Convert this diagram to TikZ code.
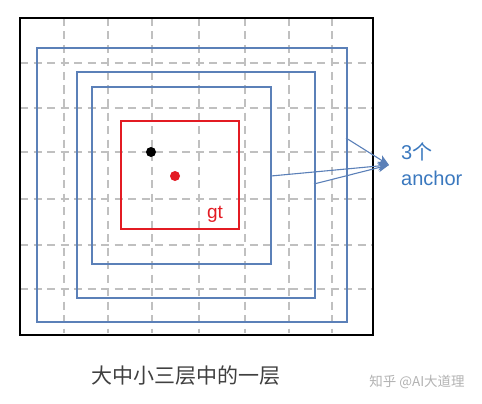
\documentclass[tikz,border=0pt]{standalone}
\usepackage{fontspec}
\setmainfont{Liberation Sans}
\newfontfamily\cjk{Noto Sans CJK SC}
\usetikzlibrary{arrows.meta}
\definecolor{boxblue}{HTML}{5B80B8}
\definecolor{txtblue}{HTML}{3A78BE}
\definecolor{gtred}{HTML}{E31B23}
\definecolor{gridgray}{HTML}{C0C0C0}
\begin{document}
\begin{tikzpicture}[x=1pt,y=-1pt,
  gridline/.style={gridgray, line width=1.7pt, dash pattern=on 8pt off 5.5pt},
  framebox/.style={draw, line width=2pt, inner sep=0pt, outer sep=0pt, rectangle},
  dotnode/.style={circle, inner sep=0pt, minimum size=10pt},
  arr/.style={boxblue, line width=1.1pt, -{Stealth[length=11pt,width=9pt,inset=3pt]}},
  lbl/.style={txtblue, font=\fontsize{20}{24}\selectfont, inner sep=0pt}]
\useasboundingbox (0,0) rectangle (482,404);
% grid
\foreach \gx in {64,108,152,199,245,289,332}
  \draw[gridline] (\gx,18) -- (\gx,333);
\foreach \gy in {63,108,152,199,245,289}
  \draw[gridline] (20,\gy) -- (373,\gy);
% frames
\node[framebox, draw=black, minimum width=353pt, minimum height=317pt] (frame) at (196.5,176.5) {};
\node[framebox, draw=boxblue, minimum width=310pt, minimum height=274pt] (large) at (192,185) {};
\node[framebox, draw=boxblue, minimum width=238pt, minimum height=226pt] (medium) at (196,185) {};
\node[framebox, draw=boxblue, minimum width=179pt, minimum height=177pt] (small) at (181.5,175.5) {};
\node[framebox, draw=gtred, minimum width=118pt, minimum height=108pt] (gtbox) at (180,175) {};
% dots
\node[dotnode, fill=black] (bdot) at (151,152) {};
\node[dotnode, fill=gtred] (rdot) at (175,176) {};
\node[text=gtred, font=\fontsize{19}{22}\selectfont, inner sep=0pt, anchor=base] (gt) at (215,218) {gt};
% label
\node[lbl, anchor=base west] (three) at (401,159) {3{\cjk 个}};
\node[lbl, anchor=base west] (anchortxt) at (401,185) {anchor};
% arrows
\coordinate (tip) at (389,165);
\coordinate (s1) at (346,138);
\coordinate (s2) at (271,176);
\coordinate (s3) at (314,184);
\draw[arr] (s1) -- (tip);
\draw[arr] (s2) -- (tip);
\draw[arr] (s3) -- (tip);
% caption
\node[font=\cjk\fontsize{21}{24}\selectfont, text=black!75, inner sep=0pt] (caption) at (186,376) {大中小三层中的一层};
\node[font=\cjk\fontsize{13.5}{16}\selectfont, text=black!30, inner sep=0pt] (mark) at (417,382) {知乎 @AI大道理};
\end{tikzpicture}
\end{document}
